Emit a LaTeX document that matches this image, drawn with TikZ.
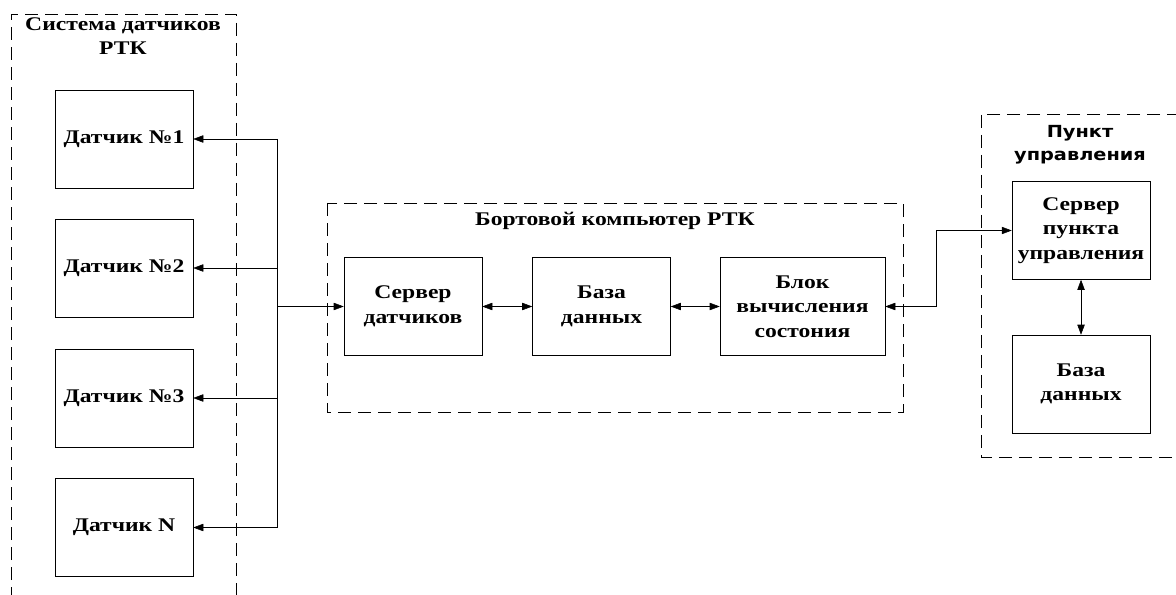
\documentclass[tikz,border=0pt]{standalone}
\usepackage{fontspec}
\setmainfont{Liberation Serif}[FakeStretch=1.22]
\newfontfamily\titlesans{DejaVu Sans}[FakeStretch=1.16]
\usetikzlibrary{arrows.meta}
\begin{document}
\begin{tikzpicture}[x=0.75pt,y=-0.75pt,
		>={Triangle[length=7.5pt,width=5.5pt]},
		frame/.style={draw=black, thin, dash pattern=on 10pt off 5pt},
		link/.style={draw=black, thin}]
		\useasboundingbox (0,0) rectangle (1176,595);

		% frames
		\path [frame] (11,600) -- (11,14) -- (236,14) -- (236,600);
		\path [frame] (327,203) rectangle (903,412);
		\path [frame] (1180,114) -- (981,114) -- (981,457) -- (1180,457);

		\begin{scope}[every node/.style={align=center, font=\bfseries\fontsize{14.5pt}{18.5pt}\selectfont}]
			\node (T1) at (123,36) {Система датчиков\\РТК};
			\node (T2) at (615,221) {Бортовой компьютер РТК};
			\node [font=\titlesans\bfseries\fontsize{12.5pt}{17.5pt}\selectfont] (T3) at (1080,145) {Пункт\\управления};
		\end{scope}

		\begin{scope}[every node/.style={draw, thin, align=center, minimum width=103.5pt, minimum height=73.5pt, inner sep=0pt, font=\bfseries\fontsize{14.5pt}{18.5pt}\selectfont}]
			\node (S1) at (124,139) {Датчик №1};
			\node (S2) at (124,268) {Датчик №2};
			\node (S3) at (124,398) {Датчик №3};
			\node (SN) at (124,527.5) {Датчик N};
			\node (A) at (413,306.5) {Сервер\\датчиков};
			\node (B) at (601.5,306.5) {База\\данных};
			\node [minimum width=123.75pt] (C) at (802.5,306.5) {Блок\\вычисления\\состония};
			\node (D) at (1081,230.5) {Сервер\\пункта\\управления};
			\node (E) at (1081,384) {База\\данных};
		\end{scope}

		\coordinate (J1) at (277,139);
		\coordinate (J2) at (277,268);
		\coordinate (J3) at (277,398);
		\coordinate (JN) at (277,527.5);
		\coordinate (J0) at (277,306.5);
		\coordinate (K) at (936,230.5);

		\begin{scope}[every edge/.style={link}]
			\path [-] (J1) edge (JN);
			\path [->] (J1) edge (S1);
			\path [->] (J2) edge (S2);
			\path [->] (J3) edge (S3);
			\path [->] (JN) edge (SN);
			\path [->] (J0) edge (A);
			\path [<->] (A) edge (B);
			\path [<->] (B) edge (C);
			\path [<->] (D) edge (E);
		\end{scope}

		\draw [link, <->] (C.east) -| (K) -- (D.west);

	\end{tikzpicture}
\end{document}
